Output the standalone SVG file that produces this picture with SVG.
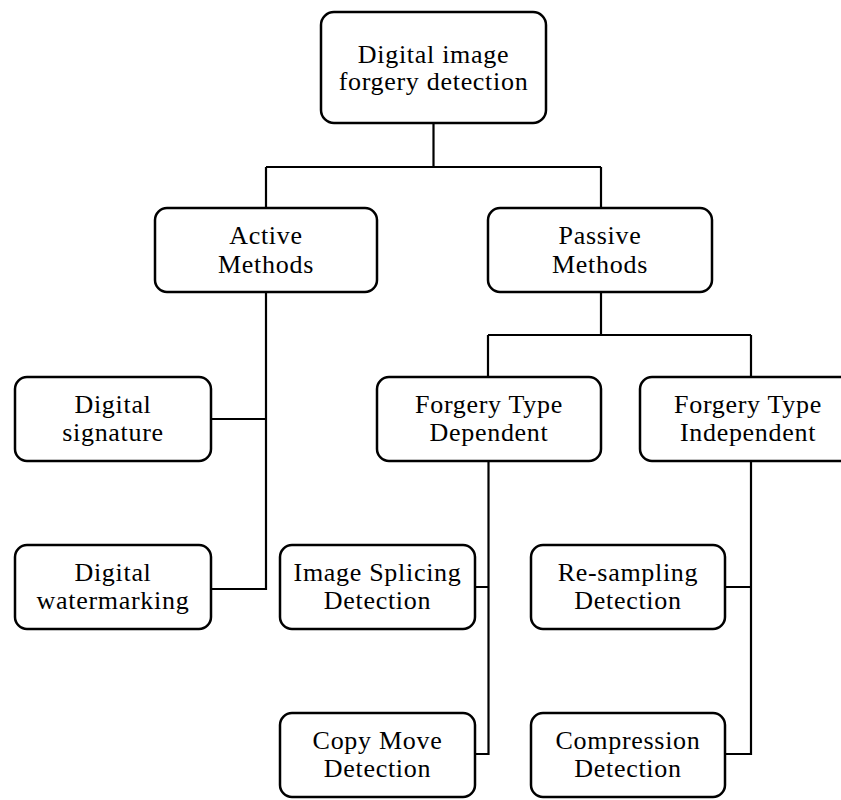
<svg xmlns="http://www.w3.org/2000/svg" width="841" height="800" viewBox="0 0 841 800">
<style>
.box{fill:#fff;stroke:#000;stroke-width:2.5}
.lbl{font-family:"Liberation Serif","Times New Roman",serif;font-size:26px;fill:#000;text-anchor:middle;letter-spacing:0.7px}
.con{fill:none;stroke:#000;stroke-width:2.2}
</style>
<rect width="841" height="800" fill="#fff"/>
<g id="connectors" class="con">
<path d="M433.5,123 V167"/>
<path d="M266,167 H601"/>
<path d="M266,167 V208 M601,167 V208"/>
<path d="M266,292 V589 H211 M211,419 H266"/>
<path d="M601,292 V335 M488,335 H751 M488,335 V377 M751,335 V377"/>
<path d="M488.5,461 V754 H475 M475,587 H488.5"/>
<path d="M751,461 V754 H725 M725,587 H751"/>
</g>
<g id="root"><rect class="box" x="321" y="12" width="225" height="111" rx="13"/><text class="lbl" x="433.5" y="63">Digital image</text><text class="lbl" x="433.5" y="90">forgery detection</text></g>
<g id="active"><rect class="box" x="155" y="208" width="222" height="84" rx="12"/><text class="lbl" x="266" y="244">Active</text><text class="lbl" x="266" y="273">Methods</text></g>
<g id="passive"><rect class="box" x="488" y="208" width="224" height="84" rx="12"/><text class="lbl" x="600" y="244">Passive</text><text class="lbl" x="600" y="273">Methods</text></g>
<g id="dsig"><rect class="box" x="15" y="377" width="196" height="84" rx="12"/><text class="lbl" x="113" y="413">Digital</text><text class="lbl" x="113" y="441">signature</text></g>
<g id="dwm"><rect class="box" x="15" y="545" width="196" height="84" rx="12"/><text class="lbl" x="113" y="581">Digital</text><text class="lbl" x="113" y="609">watermarking</text></g>
<g id="dep"><rect class="box" x="377" y="377" width="224" height="84" rx="12"/><text class="lbl" x="489" y="413">Forgery Type</text><text class="lbl" x="489" y="441">Dependent</text></g>
<g id="indep"><rect class="box" x="640" y="377" width="221" height="84" rx="12"/><text class="lbl" x="748" y="413">Forgery Type</text><text class="lbl" x="748" y="441">Independent</text></g>
<g id="splice"><rect class="box" x="280" y="545" width="195" height="84" rx="12"/><text class="lbl" x="377.5" y="581">Image Splicing</text><text class="lbl" x="377.5" y="609">Detection</text></g>
<g id="copymove"><rect class="box" x="280" y="713" width="195" height="84" rx="12"/><text class="lbl" x="377.5" y="749">Copy Move</text><text class="lbl" x="377.5" y="777">Detection</text></g>
<g id="resample"><rect class="box" x="531" y="545" width="194" height="84" rx="12"/><text class="lbl" x="628" y="581">Re-sampling</text><text class="lbl" x="628" y="609">Detection</text></g>
<g id="compress"><rect class="box" x="531" y="713" width="194" height="84" rx="12"/><text class="lbl" x="628" y="749">Compression</text><text class="lbl" x="628" y="777">Detection</text></g>
</svg>
